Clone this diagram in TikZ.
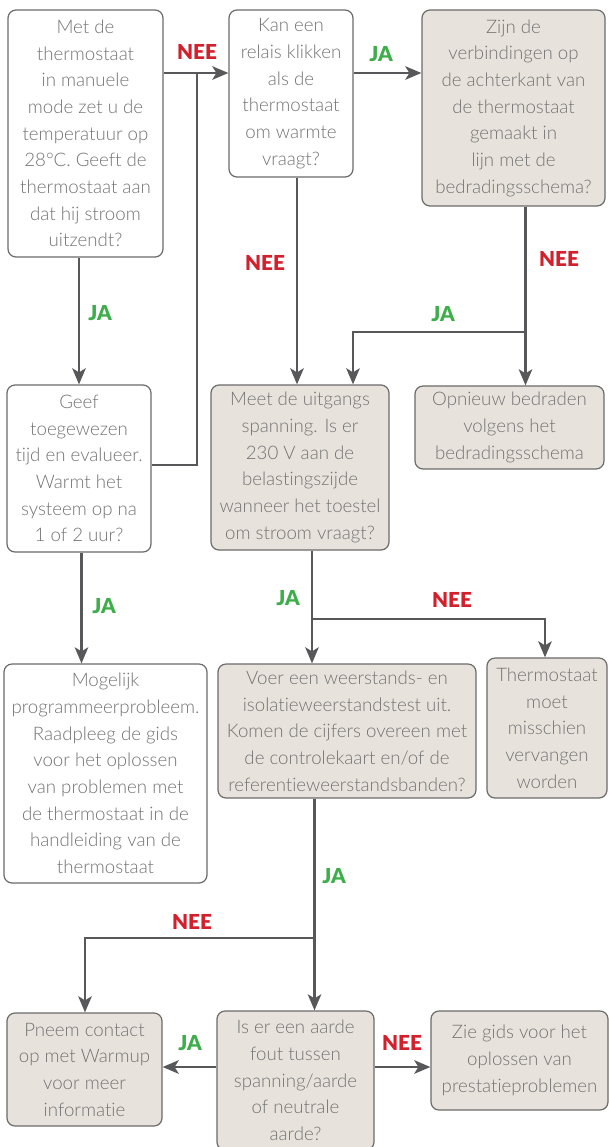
\documentclass[tikz,border=0pt]{standalone}
\usepackage{fontspec}
\setmainfont{Lato Light}[Ligatures=NoCommon]
\newfontfamily\lblfont{Lato Black}
\usetikzlibrary{arrows.meta}
\definecolor{boxgray}{HTML}{E7E3DC}
\definecolor{bordc}{HTML}{6B6B6B}
\definecolor{txtc}{HTML}{737373}
\definecolor{linec}{HTML}{58585A}
\definecolor{nered}{HTML}{D2202C}
\definecolor{jagreen}{HTML}{3DAE4A}
\tikzset{
  box/.style={draw=bordc, line width=0.9pt, rounded corners=6pt, align=center,
    inner sep=0pt, text=txtc, font=\fontsize{14pt}{20pt}\selectfont},
  wbox/.style={box, fill=white},
  gbox/.style={box, fill=boxgray},
  conn/.style={draw=linec, line width=2.2pt},
  arr/.style={conn, -{Stealth[length=12pt,width=10pt,inset=3pt]}},
  nee/.style={text=nered, font=\lblfont\fontsize{15.5pt}{18pt}\selectfont, inner sep=0pt},
  ja/.style={text=jagreen, font=\lblfont\fontsize{15.5pt}{18pt}\selectfont, inner sep=0pt}
}
\begin{document}
\begin{tikzpicture}[x=0.75pt,y=-0.75pt]
\useasboundingbox[fill=white] (0,0) rectangle (608,1147);

% boxes
\node[wbox, minimum width=116.25pt, minimum height=185.25pt] (A) at (85.5,133.5)
  {Met de\\thermostaat\\in manuele\\mode zet u de\\temperatuur op\\28°C. Geeft de\\thermostaat aan\\dat hij stroom\\uitzendt?};
\node[wbox, minimum width=93pt, minimum height=125.25pt] (B) at (291,93.5)
  {Kan een\\relais klikken\\als de\\thermostaat\\om warmte\\vraagt?};
\node[gbox, minimum width=137.25pt, minimum height=147pt] (C) at (513.5,108)
  {Zijn de\\verbindingen op\\de achterkant van\\de thermostaat\\gemaakt in\\lijn met de\\bedradingsschema?};
\node[wbox, minimum width=108pt, minimum height=125.25pt] (D) at (79,468.5)
  {Geef\\toegewezen\\tijd en evalueer.\\Warmt het\\systeem op na\\1 of 2 uur?};
\node[gbox, minimum width=133.5pt, minimum height=123.75pt] (E) at (300,467.5)
  {Meet de uitgangs\\spanning. Is er\\230 V aan de\\belastingszijde\\wanneer het toestel\\om stroom vraagt?};
\node[gbox, minimum width=141.75pt, minimum height=62.25pt] (F) at (509.5,427.5)
  {Opnieuw bedraden\\volgens het\\bedradingsschema};
\node[wbox, minimum width=152.25pt, minimum height=164.25pt] (G) at (105.5,773.5)
  {Mogelijk\\programmeerprobleem.\\Raadpleeg de gids\\voor het oplossen\\van problemen met\\de thermostaat in de\\handleiding van de\\thermostaat};
\node[gbox, minimum width=193.5pt, minimum height=100.5pt] (H) at (347,731)
  {Voer een weerstands- en\\isolatieweerstandstest uit.\\Komen de cijfers overeen met\\de controlekaart en/of de\\referentieweerstandsbanden?};
\node[gbox, minimum width=90pt, minimum height=105pt] (I) at (547,728)
  {Thermostaat\\moet\\misschien\\vervangen\\worden};
\node[gbox, minimum width=116.25pt, minimum height=84.75pt] (J) at (84.5,1069.5)
  {Pneem contact\\op met Warmup\\voor meer\\informatie};
\node[gbox, minimum width=117.75pt, minimum height=104.25pt] (K) at (295.5,1080.5)
  {Is er een aarde\\fout tussen\\spanning/aarde\\of neutrale\\aarde?};
\node[gbox, minimum width=132.75pt, minimum height=74.25pt] (L) at (519.5,1060.5)
  {Zie gids voor het\\oplossen van\\prestatieproblemen};

% junction coordinates
\coordinate (j1) at (197,73);
\coordinate (j2) at (197,465);
\coordinate (k1) at (297,0);
\coordinate (k2) at (525.5,332);
\coordinate (k3) at (353,332);
\coordinate (k4) at (81.5,0);
\coordinate (k5) at (312,619);
\coordinate (k6) at (545,619);
\coordinate (k7) at (314.5,938);
\coordinate (k8) at (85,938);
\coordinate (k9) at (0,1067);

% connectors
\draw[arr] (j1 -| A.east) -- (j1 -| B.west);
\draw[conn] (j2 -| D.east) -- (j2) -- (j1);
\draw[arr] (A.south -| D.north) -- (D.north);
\draw[arr] (j1 -| B.east) -- (j1 -| C.west);
\draw[arr] (B.south -| k1) -- (E.north -| k1);
\draw[arr] (C.south -| k2) -- (F.north -| k2);
\draw[arr] (k2) -- (k3) -- (k3 |- E.north);
\draw[arr] (D.south -| k4) -- (G.north -| k4);
\draw[arr] (E.south -| k5) -- (H.north -| k5);
\draw[arr] (k5) -- (k6) -- (k6 |- I.north);
\draw[arr] (H.south -| k7) -- (K.north -| k7);
\draw[arr] (k7) -- (k8) -- (k8 |- J.north);
\draw[arr] (K.west |- k9) -- (J.east |- k9);
\draw[arr] (K.east |- k9) -- (L.west |- k9);

% labels
\node[nee] (l1) at (197,52) {NEE};
\node[ja] (l2) at (100,313) {JA};
\node[ja] (l3) at (381,54) {JA};
\node[nee] (l4) at (265,263) {NEE};
\node[nee] (l5) at (559,259) {NEE};
\node[ja] (l6) at (443,314) {JA};
\node[ja] (l7) at (104,606) {JA};
\node[ja] (l8) at (288,598) {JA};
\node[nee] (l9) at (452,600) {NEE};
\node[ja] (l10) at (334,876) {JA};
\node[nee] (l11) at (192,922) {NEE};
\node[ja] (l12) at (190,1043) {JA};
\node[nee] (l13) at (402,1043) {NEE};
\end{tikzpicture}
\end{document}
